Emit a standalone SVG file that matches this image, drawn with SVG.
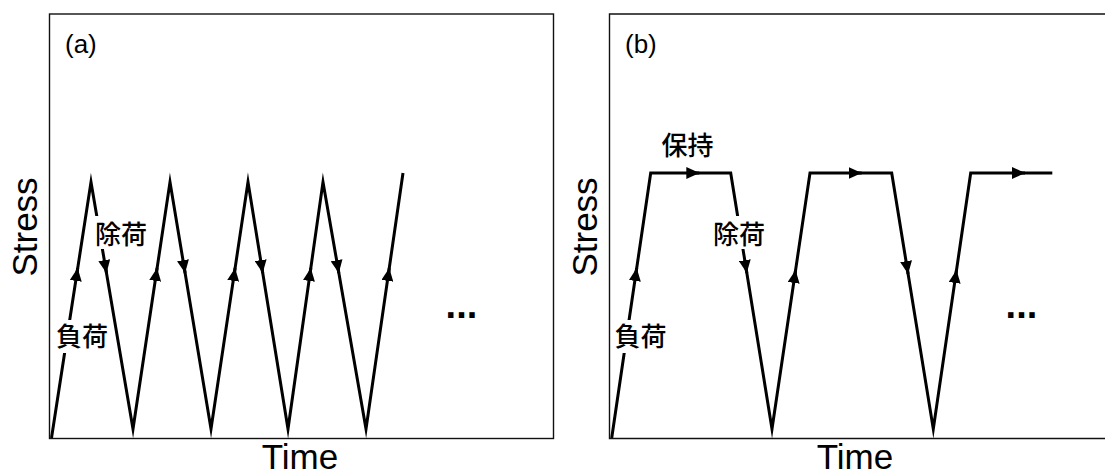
<svg xmlns="http://www.w3.org/2000/svg" width="1105" height="475" viewBox="0 0 1105 475">
  <style>
    .frame { fill: none; stroke: #111; stroke-width: 1.4; }
    .wave { fill: none; stroke: #000; stroke-width: 3; stroke-linejoin: miter; stroke-miterlimit: 12; stroke-linecap: butt; }
    .arr { fill: none; stroke: #000; stroke-width: 3; }
    .axis { font-family: "Liberation Sans", Arial, sans-serif; font-size: 35px; fill: #000; }
    .tag { font-family: "Liberation Sans", Arial, sans-serif; font-size: 26px; fill: #000; }
    .jp { font-family: "Noto Sans CJK JP", "Noto Sans CJK SC", sans-serif; font-size: 26px; font-weight: 500; fill: #000; text-anchor: middle; }
    .bg { fill: #fff; }
    .dots { font-family: "Liberation Sans", Arial, sans-serif; font-size: 38px; font-weight: bold; fill: #000; }
  </style>
  <defs>
    <marker id="ah" markerUnits="userSpaceOnUse" markerWidth="13" markerHeight="12" refX="13" refY="6" orient="auto">
      <path d="M0,0 L13,6 L0,12 z" fill="#000"/>
    </marker>
  </defs>
  <rect width="1105" height="475" fill="#fff"/>

  <!-- Panel (a) -->
  <g id="panel-a">
    <rect class="frame" x="49.5" y="14" width="504" height="424.5"/>
    <text class="tag" x="65" y="53">(a)</text>
    <text class="axis" x="300" y="469" text-anchor="middle">Time</text>
    <text class="axis" transform="translate(37,227) rotate(-90)" text-anchor="middle">Stress</text>
  </g>

  <!-- Panel (b) -->
  <g id="panel-b">
    <path class="frame" d="M1106,14 H609.5 V438.5 H1106"/>
    <text class="tag" x="625" y="53">(b)</text>
    <text class="axis" x="855" y="469" text-anchor="middle">Time</text>
    <text class="axis" transform="translate(597,227) rotate(-90)" text-anchor="middle">Stress</text>
  </g>

  <!-- Connectors (waveforms and direction arrows) -->
  <g id="connectors">
    <polyline class="wave" points="51.5,438 91,182 133,429 170,182 211,429 248,182 288,429 323,182 366,429 403,173"/>
    <path class="arr" d="M75.9,280 L77.7,268" marker-end="url(#ah)"/>
    <path class="arr" d="M104.4,261 L106.5,273" marker-end="url(#ah)"/>
    <path class="arr" d="M155.3,280 L157.1,268" marker-end="url(#ah)"/>
    <path class="arr" d="M183.1,261 L185.1,273" marker-end="url(#ah)"/>
    <path class="arr" d="M233.3,280 L235.1,268" marker-end="url(#ah)"/>
    <path class="arr" d="M260.8,261 L262.7,273" marker-end="url(#ah)"/>
    <path class="arr" d="M309.1,280 L310.8,268" marker-end="url(#ah)"/>
    <path class="arr" d="M336.7,261 L338.8,273" marker-end="url(#ah)"/>
    <path class="arr" d="M387.5,280 L389.3,268" marker-end="url(#ah)"/>

    <polyline class="wave" points="611.7,438 650.7,173 730.7,173 772,429 810,173 891.7,173 933.3,429 970.7,173 1052.3,173"/>
    <path class="arr" d="M635,280 L636.7,268" marker-end="url(#ah)"/>
    <path class="arr" d="M689,173 L699.3,173" marker-end="url(#ah)"/>
    <path class="arr" d="M744.9,261 L746.8,273" marker-end="url(#ah)"/>
    <path class="arr" d="M793.8,282 L795.6,270" marker-end="url(#ah)"/>
    <path class="arr" d="M851,173 L861.7,173" marker-end="url(#ah)"/>
    <path class="arr" d="M906.2,262 L908.1,274" marker-end="url(#ah)"/>
    <path class="arr" d="M954.8,282 L956.5,270" marker-end="url(#ah)"/>
    <path class="arr" d="M1015,173 L1025,173" marker-end="url(#ah)"/>
  </g>

  <!-- Labels -->
  <g id="label-a-unload">
    <rect class="bg" x="93" y="216" width="56" height="33"/>
    <text class="jp" x="121" y="244">除荷</text>
  </g>
  <g id="label-a-load">
    <rect class="bg" x="53" y="320" width="58" height="33"/>
    <text class="jp" x="82" y="346">負荷</text>
  </g>
  <g id="label-a-dots">
    <text class="dots" x="445.6" y="318">...</text>
  </g>
  <g id="label-b-hold">
    <text class="jp" x="687.5" y="155">保持</text>
  </g>
  <g id="label-b-unload">
    <rect class="bg" x="711" y="216" width="56" height="33"/>
    <text class="jp" x="739" y="244">除荷</text>
  </g>
  <g id="label-b-load">
    <rect class="bg" x="611" y="320" width="58" height="33"/>
    <text class="jp" x="640.5" y="346">負荷</text>
  </g>
  <g id="label-b-dots">
    <text class="dots" x="1005.6" y="318">...</text>
  </g>
</svg>
